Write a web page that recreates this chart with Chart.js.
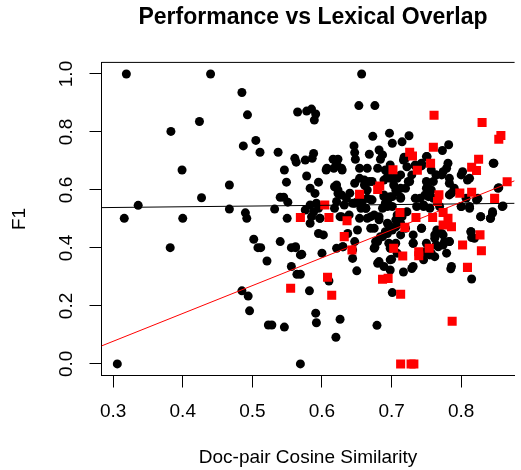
<!DOCTYPE html>
<html>
<head>
<meta charset="utf-8">
<script src="https://cdn.jsdelivr.net/npm/chart.js@4"></script>
<style>
  html, body { margin: 0; padding: 0; background: #ffffff; overflow: hidden; }
  canvas { display: block; }
</style>
</head>
<body>
<canvas id="c" width="521" height="470"></canvas>
<script>
// ---- data ----
const chartTitle = "Performance vs Lexical Overlap";
const xTitle = "Doc-pair Cosine Similarity";
const yTitle = "F1";
const xTicks = [0.3, 0.4, 0.5, 0.6, 0.7, 0.8];
const yTicks = [0.0, 0.2, 0.4, 0.6, 0.8, 1.0];

const blackX = [
0.319,0.440,0.485,0.493,0.565,0.424,0.383,0.505,0.487,0.511,0.537,0.561,0.563,0.399,0.546,0.549,0.467,0.427,0.540,0.545,
0.551,0.336,0.467,0.532,0.490,0.316,0.400,0.550,0.492,0.382,0.502,0.508,0.512,0.540,0.556,0.562,0.569,0.521,0.556,0.564,
0.569,0.485,0.494,0.496,0.523,0.528,0.546,0.306,0.569,
0.657,0.653,0.676,0.578,0.585,0.591,0.589,0.673,0.697,0.701,0.715,0.725,0.646,0.647,0.648,0.668,0.682,0.687,0.684,0.576,
0.588,0.586,0.616,0.623,0.607,0.617,0.628,0.654,0.665,0.680,0.717,0.773,0.782,0.846,0.629,0.621,0.606,0.694,0.706,0.720,
0.734,0.743,0.750,0.757,0.764,0.772,0.781,0.779,0.578,0.595,0.583,0.590,0.583,0.592,0.576,0.621,0.623,0.635,0.621,0.632,
0.647,0.654,0.661,0.668,0.647,0.658,0.663,0.670,0.689,0.691,0.706,0.701,0.713,0.724,0.729,0.694,0.750,0.750,0.753,0.757,
0.783,0.786,0.800,0.809,0.822,0.853,0.860,0.736,0.746,0.755,0.769,0.800,0.812,0.828,0.842,0.845,
0.571,0.600,0.582,0.610,0.591,0.592,0.626,0.620,0.679,0.701,0.650,0.717,0.729,0.680,0.689,0.698,0.700,0.785,0.815,0.644,
0.644,0.676,0.680,0.687,0.694,0.701,0.706,0.731,0.731,0.746,0.762,0.767,0.762,0.776,0.783,0.772,0.765,0.814,0.819,0.626,
0.639,0.654,0.665,0.675,0.682,0.694,0.706,0.583,0.595,0.602,0.621,0.630,0.637,0.647,0.585,0.597,0.675,0.743,0.750,0.757,
0.748,0.696,0.706,
0.691,0.698,0.672,0.689,0.698,0.708,0.713,0.618,0.623,0.628,0.640,0.661,0.665,0.665,0.672,0.689,0.694,0.698,0.708,0.713,
0.703,0.588,0.597,0.595,0.618,0.628,0.644,0.651,0.656,0.663,0.670,0.682,0.687,0.701,0.708,0.715,0.562,0.630,0.651,0.670,
0.677,0.675,0.684,0.691,0.696,0.682,0.698,0.708,0.698,
0.726,0.720,0.713,0.734,0.741,0.748,0.753,0.760,0.764,0.774,0.783,0.790,0.783,0.807,0.824,0.812,0.802,0.854,0.859,0.845,
0.842,0.828,0.812,0.800,0.814,0.815,0.783,0.774,0.762,0.764,0.731,0.741,0.755,0.774,0.779,0.713,0.720,0.713,0.743,0.722,
0.746,0.760,0.731,0.786,0.718,0.722,0.734,0.743,0.751,0.847
];
const blackY = [
1.000,1.000,0.936,0.859,0.869,0.836,0.802,0.771,0.752,0.730,0.730,0.709,0.696,0.669,0.669,0.627,0.617,0.573,0.575,0.575,
0.558,0.547,0.534,0.534,0.521,0.502,0.502,0.502,0.502,0.401,0.430,0.401,0.401,0.422,0.401,0.401,0.376,0.355,0.336,0.309,
0.309,0.252,0.234,0.183,0.134,0.134,0.127,0.000,0.000,
1.000,0.891,0.891,0.872,0.879,0.862,0.841,0.785,0.796,0.761,0.766,0.787,0.752,0.729,0.706,0.723,0.738,0.721,0.706,0.703,
0.726,0.709,0.706,0.706,0.675,0.675,0.675,0.675,0.675,0.675,0.703,0.736,0.756,0.692,0.669,0.692,0.669,0.646,0.646,0.709,
0.686,0.692,0.715,0.669,0.652,0.652,0.692,0.675,0.648,0.627,0.606,0.588,0.548,0.554,0.531,0.617,0.588,0.571,0.560,0.548,
0.623,0.640,0.634,0.629,0.554,0.560,0.537,0.566,0.577,0.554,0.600,0.577,0.575,0.629,0.652,0.543,0.629,0.606,0.577,0.600,
0.623,0.589,0.652,0.634,0.566,0.606,0.545,0.543,0.543,0.537,0.543,0.543,0.537,0.508,0.502,0.520,
0.378,0.382,0.252,0.286,0.175,0.142,0.154,0.092,0.133,0.246,0.321,0.317,0.329,0.347,0.336,0.324,0.361,0.328,0.293,0.364,
0.393,0.402,0.422,0.439,0.450,0.462,0.473,0.445,0.416,0.359,0.370,0.404,0.433,0.422,0.422,0.450,0.462,0.456,0.433,0.508,
0.514,0.502,0.502,0.514,0.497,0.485,0.497,0.485,0.450,0.445,0.399,0.404,0.450,0.422,0.508,0.502,0.468,0.468,0.416,0.382,
0.387,0.416,0.416,
0.669,0.686,0.629,0.634,0.640,0.640,0.652,0.611,0.600,0.583,0.589,0.617,0.600,0.571,0.566,0.583,0.560,0.577,0.594,0.606,
0.617,0.525,0.502,0.537,0.537,0.508,0.554,0.560,0.537,0.537,0.508,0.508,0.537,0.543,0.514,0.508,0.404,0.404,0.462,0.468,
0.422,0.399,0.439,0.456,0.479,0.353,0.359,0.382,0.399,
0.629,0.606,0.571,0.571,0.571,0.583,0.606,0.629,0.652,0.663,0.640,0.606,0.583,0.571,0.571,0.640,0.663,0.608,0.543,0.525,
0.502,0.508,0.543,0.543,0.456,0.436,0.422,0.445,0.445,0.410,0.416,0.382,0.376,0.410,0.382,0.485,0.468,0.445,0.468,0.525,
0.548,0.571,0.336,0.336,0.713,0.680,0.683,0.683,0.715,0.692
];

const redX = [
0.569,0.555,0.761,0.830,0.857,0.854,0.760,0.726,0.730,0.756,0.825,0.815,0.822,0.866,0.702,0.737,0.654,0.680,0.683,0.768,
0.766,0.798,0.815,0.848,0.604,0.712,0.774,0.610,0.636,0.735,0.759,0.781,0.774,0.786,0.719,0.632,0.643,0.703,0.716,0.739,
0.739,0.754,0.802,0.827,0.829,0.809,0.608,0.614,0.687,0.695,0.713,0.787,0.713,0.728,0.732
];
const redY = [
0.505,0.261,0.858,0.833,0.788,0.775,0.747,0.730,0.717,0.692,0.706,0.678,0.667,0.628,0.670,0.668,0.585,0.602,0.614,0.583,
0.560,0.589,0.592,0.571,0.548,0.522,0.522,0.505,0.494,0.505,0.505,0.502,0.479,0.473,0.471,0.439,0.393,0.399,0.372,0.387,
0.373,0.399,0.410,0.445,0.390,0.333,0.299,0.237,0.292,0.295,0.240,0.147,0.000,0.000,0.000
];

// fitted regression lines (intercept, slope)
const blackFit = [0.532, 0.025];
const redFit = [-0.210, 0.96];

// ---- build ----
const xMin = 0.2833, xMax = 0.8767, yMin = -0.04, yMax = 1.04;
const toPts = (xs, ys) => xs.map((x, i) => ({x: x, y: ys[i]}));
const fitPts = (f) => [{x: xMin, y: f[0] + f[1] * xMin}, {x: xMax, y: f[0] + f[1] * xMax}];
const FONT = "'Liberation Sans', Arial, Helvetica, sans-serif";

const rPlot = {
  id: 'rPlot',
  afterDraw(chart) {
    const ctx = chart.ctx;
    const a = chart.chartArea;
    const ys = chart.scales.y;
    ctx.save();
    // top border of box
    ctx.strokeStyle = '#000';
    ctx.lineWidth = 1;
    ctx.beginPath();
    ctx.moveTo(a.left, a.top);
    ctx.lineTo(a.right, a.top);
    ctx.stroke();
    // rotated y tick labels
    ctx.fillStyle = '#000';
    ctx.font = '19px ' + FONT;
    ctx.textAlign = 'center';
    ctx.textBaseline = 'middle';
    yTicks.forEach(v => {
      const py = ys.getPixelForValue(v);
      ctx.save();
      ctx.translate(67, py);
      ctx.rotate(-Math.PI / 2);
      ctx.fillText(v.toFixed(1), 0, 0);
      ctx.restore();
    });
    // main title
    ctx.font = 'bold 23px ' + FONT;
    ctx.textBaseline = 'alphabetic';
    ctx.fillText(chartTitle, 313, 24);
    ctx.restore();
  }
};

new Chart(document.getElementById('c'), {
  type: 'scatter',
  data: {
    datasets: [
      { type: 'line', data: fitPts(redFit), borderColor: '#ff0000', borderWidth: 1, pointRadius: 0, fill: false, order: 1 },
      { type: 'line', data: fitPts(blackFit), borderColor: '#000000', borderWidth: 1, pointRadius: 0, fill: false, order: 1 },
      { data: toPts(redX, redY), pointStyle: 'rect', pointRadius: 6.4, backgroundColor: '#ff0000', borderWidth: 0, order: 2 },
      { data: toPts(blackX, blackY), pointStyle: 'circle', pointRadius: 4.5, backgroundColor: '#000000', borderWidth: 0, order: 3 }
    ]
  },
  options: {
    responsive: false,
    animation: false,
    devicePixelRatio: 1,
    layout: { padding: { top: 62.4, left: 0, right: 0, bottom: 0 } },
    plugins: { legend: { display: false }, tooltip: { enabled: false }, title: { display: false } },
    scales: {
      x: {
        type: 'linear', position: 'bottom', min: xMin, max: xMax,
        afterBuildTicks: (s) => { s.ticks = xTicks.map(v => ({value: v})); },
        grid: { drawOnChartArea: false, drawTicks: true, tickLength: 12, color: '#000', lineWidth: 1 },
        border: { display: true, color: '#000', width: 1 },
        ticks: { padding: 12.7, color: '#000', font: { size: 19, family: FONT }, autoSkip: false, maxRotation: 0,
                 callback: (v) => Number(v).toFixed(1) },
        title: { display: true, text: xTitle, color: '#000', font: { size: 19, family: FONT }, padding: { top: 10.2, bottom: 1.3 } }
      },
      y: {
        type: 'linear', position: 'left', min: yMin, max: yMax,
        afterBuildTicks: (s) => { s.ticks = yTicks.map(v => ({value: v})); },
        grid: { drawOnChartArea: false, drawTicks: true, tickLength: 12, color: '#000', lineWidth: 1 },
        border: { display: true, color: '#000', width: 1 },
        ticks: { display: false },
        title: { display: true, text: yTitle, color: '#000', font: { size: 19, family: FONT }, padding: { top: 8.6, bottom: 58.1 } }
      }
    }
  },
  plugins: [rPlot]
});
</script>
</body>
</html>
